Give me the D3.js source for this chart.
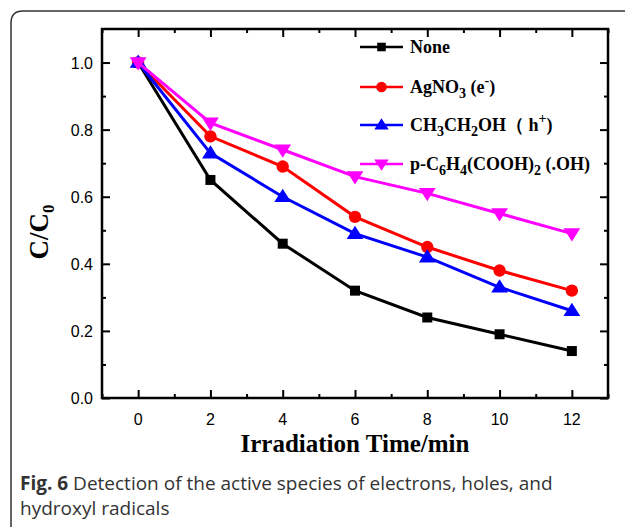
<!DOCTYPE html>
<html>
<head>
<meta charset="utf-8">
<script src="https://cdn.jsdelivr.net/npm/d3@7"></script>
<style>
  body { margin: 0; background: #fff; }
</style>
</head>
<body>
<svg id="chart" width="625" height="527"></svg>
<script>
/// data
var times = [0, 2, 4, 6, 8, 10, 12]
var noneVals = [1.0, 0.65, 0.46, 0.32, 0.24, 0.19, 0.14]
var agno3Vals = [1.0, 0.78, 0.69, 0.54, 0.45, 0.38, 0.32]
var ethanolVals = [1.0, 0.73, 0.60, 0.49, 0.42, 0.33, 0.26]
var tpaVals = [1.0, 0.82, 0.74, 0.66, 0.61, 0.55, 0.49]
var xTicks = [0, 2, 4, 6, 8, 10, 12]
var yTicks = [0.0, 0.2, 0.4, 0.6, 0.8, 1.0]

var series = [
  { name: "None", vals: noneVals, color: "#000000", sym: d3.symbolSquare },
  { name: "AgNO3", vals: agno3Vals, color: "#ff0000", sym: d3.symbolCircle },
  { name: "CH3CH2OH", vals: ethanolVals, color: "#0000ff", sym: "up" },
  { name: "TPA", vals: tpaVals, color: "#ff00ff", sym: "down" }
]

var svg = d3.select("#chart")

/// rounded frame round the figure
svg.append("path")
  .attr("d", "M11,527 L11,23 Q11,11 23,11 L625,11")
  .attr("fill", "none")
  .attr("stroke", "#333")
  .attr("stroke-width", 1.5)

var plot = { left: 102, right: 608, top: 29, bottom: 398 }

var x = d3.scaleLinear().domain([-1, 13]).range([plot.left, plot.right])
var y = d3.scaleLinear().domain([0, 1.1]).range([plot.bottom, plot.top])

var g = svg.append("g")

/// ticks: all point inward, major + minor on four sides
function ticks(axisGen, values, size, transform) {
  g.append("g")
    .attr("transform", transform)
    .call(axisGen.tickValues(values).tickSize(size).tickFormat(""))
    .call(s => s.select(".domain").remove())
    .selectAll("line").attr("stroke", "#000").attr("stroke-width", 2)
}
var xMinor = [-1, 1, 3, 5, 7, 9, 11, 13]
var yMinor = [0.1, 0.3, 0.5, 0.7, 0.9]
ticks(d3.axisTop(x), xTicks, 8, "translate(0," + plot.bottom + ")")
ticks(d3.axisTop(x), xMinor, 4, "translate(0," + plot.bottom + ")")
ticks(d3.axisBottom(x), xTicks, 8, "translate(0," + plot.top + ")")
ticks(d3.axisBottom(x), xMinor, 4, "translate(0," + plot.top + ")")
ticks(d3.axisRight(y), yTicks, 8, "translate(" + plot.left + ",0)")
ticks(d3.axisRight(y), yMinor, 4, "translate(" + plot.left + ",0)")
ticks(d3.axisLeft(y), yTicks, 8, "translate(" + plot.right + ",0)")
ticks(d3.axisLeft(y), yMinor, 4, "translate(" + plot.right + ",0)")

/// tick labels
g.selectAll(".xl").data(xTicks).enter().append("text")
  .attr("x", d => x(d)).attr("y", plot.bottom + 27)
  .attr("text-anchor", "middle")
  .attr("font-family", "Liberation Sans, Arial, sans-serif")
  .attr("font-size", 16)
  .text(d => d)
g.selectAll(".yl").data(yTicks).enter().append("text")
  .attr("x", plot.left - 9).attr("y", d => y(d) + 6)
  .attr("text-anchor", "end")
  .attr("font-family", "Liberation Sans, Arial, sans-serif")
  .attr("font-size", 16)
  .text(d => d.toFixed(1))

/// frame of the plot
g.append("rect")
  .attr("x", plot.left).attr("y", plot.top)
  .attr("width", plot.right - plot.left).attr("height", plot.bottom - plot.top)
  .attr("fill", "none").attr("stroke", "#000").attr("stroke-width", 2.5)

/// axis titles
svg.append("text")
  .attr("x", (plot.left + plot.right) / 2).attr("y", 452)
  .attr("text-anchor", "middle")
  .attr("font-family", "Liberation Serif, Times New Roman, serif")
  .attr("font-weight", "bold").attr("font-size", 25)
  .text("Irradiation Time/min")

var yt = svg.append("text")
  .attr("transform", "translate(48,232) rotate(-90)")
  .attr("text-anchor", "middle")
  .attr("font-family", "Liberation Serif, Times New Roman, serif")
  .attr("font-weight", "bold").attr("font-size", 27)
yt.append("tspan").text("C/C")
yt.append("tspan").attr("font-size", 17).attr("dy", 6).text("0")

function marker(sel, s, size) {
  if (s.sym === "up" || s.sym === "down") {
    var h = size * 0.95, w = size * 0.6
    var p = s.sym === "up"
      ? "M0," + (-h * 0.6) + "L" + w + "," + (h * 0.4) + "L" + (-w) + "," + (h * 0.4) + "Z"
      : "M0," + (h * 0.6) + "L" + w + "," + (-h * 0.4) + "L" + (-w) + "," + (-h * 0.4) + "Z"
    sel.attr("d", p)
  } else {
    var k = size / 14
    sel.attr("d", d3.symbol().type(s.sym).size((s.sym === d3.symbolSquare ? 100 : 120) * k * k)())
  }
  sel.attr("fill", s.color)
}

var line = d3.line().x((d, i) => x(times[i])).y(d => y(d))

series.forEach(function(s) {
  g.append("path")
    .datum(s.vals)
    .attr("d", line)
    .attr("fill", "none")
    .attr("stroke", s.color)
    .attr("stroke-width", 3)
  g.selectAll(null).data(s.vals).enter().append("path")
    .attr("transform", (d, i) => "translate(" + x(times[i]) + "," + y(d) + ")")
    .call(marker, s, 14)
})

/// legend
var legY = [47, 87, 125, 164]
var lg = svg.append("g")
  .attr("font-family", "Liberation Serif, Times New Roman, serif")
  .attr("font-weight", "bold").attr("font-size", 18)
series.forEach(function(s, i) {
  lg.append("line")
    .attr("x1", 360).attr("x2", 403).attr("y1", legY[i]).attr("y2", legY[i])
    .attr("stroke", s.color).attr("stroke-width", 2.5)
  lg.append("path")
    .attr("transform", "translate(381.5," + legY[i] + ")")
    .call(marker, s, 12)
})
function legText(i, parts) {
  var t = lg.append("text").attr("x", 410).attr("y", legY[i] + 6)
  parts.forEach(function(p) {
    var ts = t.append("tspan").text(p[0])
    if (p[1] === "sub") ts.attr("font-size", 14).attr("dy", 5)
    if (p[1] === "sup") ts.attr("font-size", 14).attr("dy", -8)
    if (p[1] === "back") ts.attr("dy", p[2])
  })
}
legText(0, [["None"]])
legText(1, [["AgNO"], ["3", "sub"], [" (e", "back", -5], ["-", "sup"], [")", "back", 8]])
legText(2, [["CH"], ["3", "sub"], ["CH", "back", -5], ["2", "sub"], ["OH\uff08 h", "back", -5], ["+", "sup"], [")", "back", 8]])
legText(3, [["p-C"], ["6", "sub"], ["H", "back", -5], ["4", "sub"], ["(COOH)", "back", -5], ["2", "sub"], [" (.OH)", "back", -5]])

/// caption
var cap = svg.append("g")
  .attr("font-family", "Open Sans, sans-serif")
  .attr("font-size", 19).attr("fill", "#333")
var c1 = cap.append("text").attr("x", 20).attr("y", 490)
c1.append("tspan").attr("font-weight", "bold").text("Fig. 6")
c1.append("tspan").text(" Detection of the active species of electrons, holes, and")
cap.append("text").attr("x", 20).attr("y", 515).text("hydroxyl radicals")
</script>
</body>
</html>
